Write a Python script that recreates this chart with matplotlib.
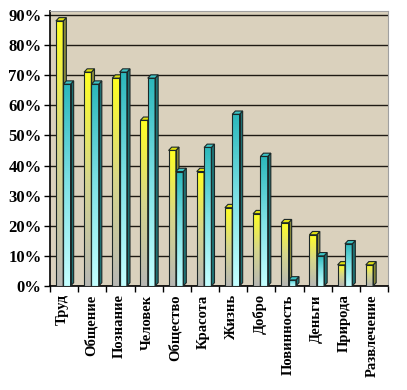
import numpy as np
import matplotlib.pyplot as plt
from matplotlib.colors import LinearSegmentedColormap
from matplotlib.patches import Polygon

plt.rcParams['font.family'] = ['Liberation Serif', 'DejaVu Serif']
plt.rcParams['font.weight'] = 'bold'

categories = ['Труд', 'Общение', 'Познание', 'Человек', 'Общество', 'Красота',
              'Жизнь', 'Добро', 'Повинность', 'Деньги', 'Природа', 'Развлечение']
series_yellow = [88, 71, 69, 55, 45, 38, 26, 24, 21, 17, 7, 7]
series_teal = [67, 67, 71, 69, 38, 46, 57, 43, 2, 10, 14, 0]
yticks = list(range(0, 100, 10))

fig = plt.figure(figsize=(4.07, 3.9), dpi=100)
ax = fig.add_axes([50 / 407, 104 / 390, 338 / 407, 275 / 390])
ax.set_facecolor('#dad1bd')

# gradients: light at the bottom, saturated at the top
yellow_cmap = LinearSegmentedColormap.from_list('y', ['#b8b8b4', '#d6d68c', '#ffff22'])
teal_cmap = LinearSegmentedColormap.from_list('t', ['#c4ffff', '#80e2e6', '#2cb8bc'])
grad = np.linspace(0, 1, 100).reshape(-1, 1)

w = 0.26
depth = 0.11
dy = 1.1
x = np.arange(len(categories))


def draw_bars(xs, vals, cmap, side_col, top_col):
    for x0, h in zip(xs, vals):
        if h <= 0:
            continue
        b = ax.bar(x0, h, width=w, align='edge', facecolor='none',
                   edgecolor='#1c2828', linewidth=0.8, zorder=4)[0]
        x1 = x0 + b.get_width()
        ax.imshow(grad, extent=[x0, x1, 0, h], origin='lower', cmap=cmap,
                  aspect='auto', zorder=3, interpolation='bilinear')
        side = Polygon([(x1, 0), (x1 + depth, dy), (x1 + depth, h + dy), (x1, h)],
                       closed=True, facecolor=side_col, edgecolor='#1c2828',
                       linewidth=0.8, zorder=3)
        top = Polygon([(x0, h), (x1, h), (x1 + depth, h + dy), (x0 + depth, h + dy)],
                      closed=True, facecolor=top_col, edgecolor='#1c2828',
                      linewidth=0.8, zorder=3)
        ax.add_patch(side)
        ax.add_patch(top)


draw_bars(x + 0.21, series_yellow, yellow_cmap, '#8c8c3c', '#e0e010')
draw_bars(x + 0.21 + w, series_teal, teal_cmap, '#1f7476', '#3cc4c6')

ax.set_xlim(0, len(categories))
ax.set_ylim(0, 91.3)
ax.set_yticks(yticks)
ax.set_yticklabels([f'{v}%' for v in yticks], fontsize=12, fontweight='bold')
ax.yaxis.grid(True, color='#1e1a14', linewidth=1.0, zorder=1)
ax.set_axisbelow(True)

ax.set_xticks(np.arange(len(categories) + 1))
ax.set_xticklabels([])
ax.set_xticks(x + 0.45, minor=True)
ax.set_xticklabels(categories, minor=True, rotation=90, fontsize=10.5, fontweight='bold')
ax.tick_params(axis='x', which='minor', length=0, pad=6)
ax.tick_params(axis='both', which='major', length=4, width=1, color='black')
ax.tick_params(axis='y', pad=2)

for s in ['top', 'right']:
    ax.spines[s].set_color('#a0a0a0')
for s in ['left', 'bottom']:
    ax.spines[s].set_color('black')
    ax.spines[s].set_linewidth(1.2)

fig.savefig('out.png', dpi=100)
